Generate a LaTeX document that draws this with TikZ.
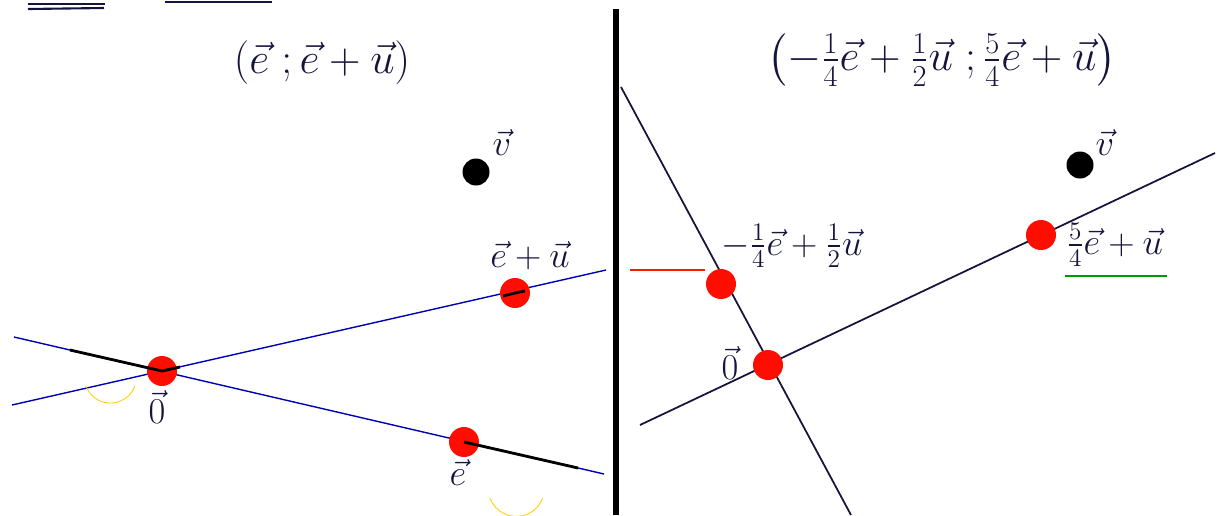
\documentclass[tikz,border=0pt]{standalone}
\usepackage{amsmath}
\begin{document}
\begin{tikzpicture}[x=0.02cm,y=-0.02cm,
  reddot/.style={circle,fill=red!90!orange,minimum size=30*0.02cm,inner sep=0pt},
  blackdot/.style={circle,fill=black,minimum size=27*0.02cm,inner sep=0pt},
  lbl/.style={text=ink,font=\fontsize{20}{24}\selectfont,inner sep=0pt},
  ttl/.style={text=ink,font=\fontsize{24}{28}\selectfont,inner sep=0pt},
  lineL/.style={draw=blue!70!black,line width=0.8pt},
  lineR/.style={draw=ink,line width=1pt},
  heavy/.style={draw=black,line width=1.6pt},
  faint/.style={draw=yellow!70!orange,line width=0.5pt}]
\definecolor{ink}{RGB}{20,20,60}
\useasboundingbox (0,0) rectangle (1223,515);
\fill[white] (0,0) rectangle (1223,515);
% top-left marks
\draw[ink,line width=1.2pt] (28,4) -- (105,4);
\draw[ink,line width=1.2pt] (28,9) -- (104,8);
\draw[ink,line width=1.2pt] (165,2) -- (272,2);
% separator
\draw[black,line width=3pt] (616,9) -- (616,515);
% ---------- left panel ----------
\node[ttl] (titleL) at (322,63) {$(\vec{e}\;;\vec{e}+\vec{u})$};
\coordinate (L1a) at (12,405);
\coordinate (L1b) at (606,270);
\coordinate (L2a) at (14,337);
\coordinate (L2b) at (604,474);
\coordinate (L2c) at (70,350);
\coordinate (L2d) at (578,468);
\draw[lineL] (L1a) -- (L1b);
\draw[lineL] (L2a) -- (L2b);
\node[reddot] (O) at (162,371) {};
\node[reddot] (EU) at (515,293) {};
\node[reddot] (E) at (464,442) {};
\node[blackdot] (V) at (476,172) {};
\draw[heavy] (L2c) -- (O.center);
\draw[heavy] (E.center) -- (L2d);
\draw[heavy] (O.center) -- ++(18,-4);
\draw[heavy] (EU.center) -- ++(-12,3) (EU.center) -- ++(10,-2);
\node[lbl] (Vl) at (502,143) {$\vec{v}$};
\node[lbl] (EUl) at (530,256) {$\vec{e}+\vec{u}$};
\node[lbl] (Ol) at (157,407) {$\vec{0}$};
\node[lbl] (El) at (458,472) {$\vec{e}$};
\draw[faint] (86,386) arc[start angle=160,end angle=20,radius=26];
\draw[faint] (490,498) arc[start angle=160,end angle=20,radius=28];
% ---------- right panel ----------
\node[ttl] (titleR) at (942,60) {$\bigl(-\tfrac{1}{4}\vec{e}+\tfrac{1}{2}\vec{u}\;;\tfrac{5}{4}\vec{e}+\vec{u}\bigr)$};
\coordinate (R1a) at (621,87);
\coordinate (R1b) at (851,515);
\coordinate (R2a) at (640,425);
\coordinate (R2b) at (1215,153);
\draw[lineR] (R1a) -- (R1b);
\draw[lineR] (R2a) -- (R2b);
\node[reddot] (A) at (721,284) {};
\node[reddot] (O2) at (768,365) {};
\node[reddot] (B) at (1041,235) {};
\node[blackdot] (V2) at (1080,165) {};
\node[lbl] (V2l) at (1105,143) {$\vec{v}$};
\node[lbl] (Al) at (792,246) {$-\tfrac{1}{4}\vec{e}+\tfrac{1}{2}\vec{u}$};
\node[lbl] (Bl) at (1115,245) {$\tfrac{5}{4}\vec{e}+\vec{u}$};
\node[lbl] (O2l) at (730,363) {$\vec{0}$};
\draw[red!80!orange,line width=0.6pt] (630,270) -- (705,270);
\draw[green!60!black,line width=0.6pt] (1065,276) -- (1167,276);
\end{tikzpicture}
\end{document}
